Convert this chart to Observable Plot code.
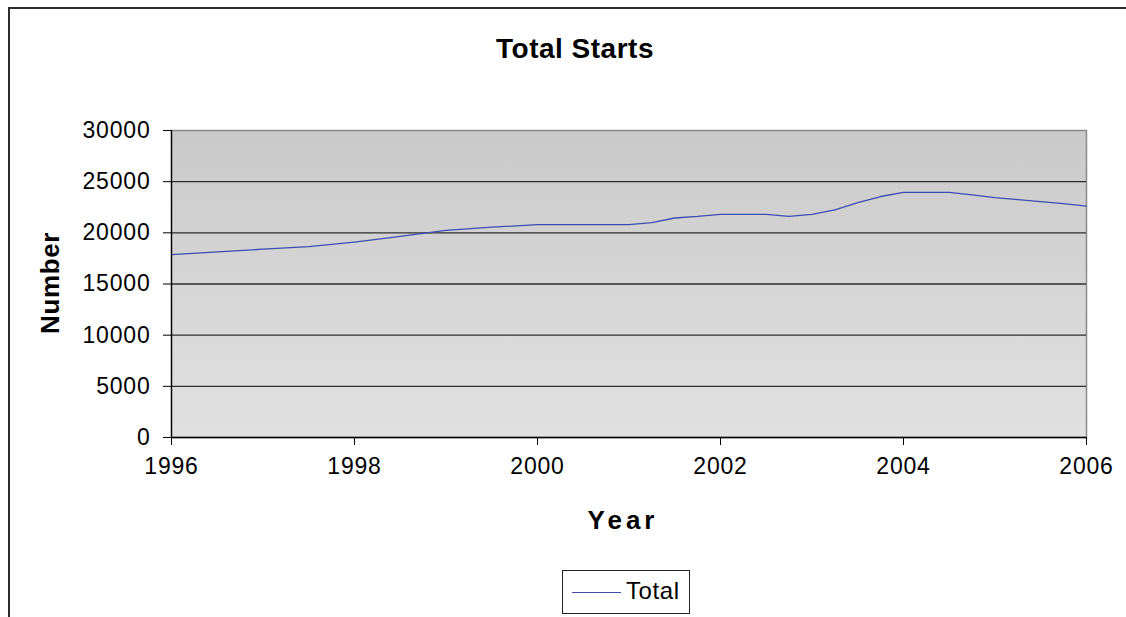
<!DOCTYPE html>
<html><head><meta charset="utf-8">
<script src="https://cdn.jsdelivr.net/npm/d3@7"></script>
<script src="https://cdn.jsdelivr.net/npm/@observablehq/plot@0.6"></script>
<style>
html,body{margin:0;padding:0;background:#fff;overflow:hidden;}
body{font-family:"Liberation Sans",Arial,sans-serif;color:#000;}
#wrap{position:relative;width:1126px;height:617px;overflow:hidden;}
#frame{position:absolute;left:8px;top:7px;width:1300px;height:800px;border:2px solid #2e2e2e;box-sizing:border-box;}
#title{position:absolute;left:575px;top:33px;transform:translateX(-50%);font-weight:bold;font-size:28px;letter-spacing:0.5px;white-space:nowrap;}
#ylab{position:absolute;left:50px;top:283px;transform:translate(-50%,-50%) rotate(-90deg);font-weight:bold;font-size:26px;white-space:nowrap;letter-spacing:0.6px;}
#xlab{position:absolute;left:623px;top:505px;transform:translateX(-50%);font-weight:bold;font-size:26px;letter-spacing:4px;white-space:nowrap;}
#chart{position:absolute;left:0;top:100px;}
#legend{position:absolute;left:562px;top:570px;width:128px;height:44px;border:1.5px solid #222;box-sizing:border-box;background:#fff;}
#legend .sw{position:absolute;left:9px;top:21px;width:49px;height:0;border-top:1.3px solid #3b4db0;}
#legend .tx{position:absolute;left:63px;top:6px;font-size:24px;letter-spacing:0.6px;}
</style>
</head><body>
<div id="wrap">
  <div id="frame"></div>
  <div id="title">Total Starts</div>
  <div id="ylab">Number</div>
  <div id="xlab">Year</div>
  <div id="chart"></div>
  <div id="legend"><div class="sw"></div><div class="tx">Total</div></div>
</div>
<script>
const years = [1996, 1997, 1997.5, 1998, 1998.5, 1999, 1999.5, 2000, 2000.25, 2000.5, 2000.75, 2001, 2001.25, 2001.5, 2001.75, 2002, 2002.25, 2002.5, 2002.75, 2003, 2003.25, 2003.5, 2003.75, 2004, 2004.25, 2004.5, 2004.75, 2005, 2005.25, 2005.5, 2005.75, 2006];
const totals = [17870, 18400, 18650, 19100, 19650, 20250, 20550, 20800, 20800, 20800, 20800, 20800, 21000, 21450, 21600, 21800, 21800, 21800, 21600, 21800, 22250, 22950, 23550, 23950, 23950, 23950, 23700, 23450, 23250, 23050, 22850, 22600];
const seriesName = "Total";
const xTicks = [1996, 1998, 2000, 2002, 2004, 2006];
const yTicks = [0, 5000, 10000, 15000, 20000, 25000, 30000];

const data = years.map((y, i) => ({year: y, total: totals[i], series: seriesName}));

const chart = Plot.plot({
  width: 1126,
  height: 440,
  marginTop: 30,
  marginBottom: 103,
  marginLeft: 171,
  marginRight: 40,
  style: {fontSize: "23px", fontFamily: "'Liberation Sans', Arial, sans-serif", color: "#000", background: "transparent", overflow: "visible", letterSpacing: "0.8px"},
  x: {domain: [1996, 2006]},
  y: {domain: [0, 30000]},
  marks: [
    Plot.frame({fill: "url(#bgGrad)", stroke: "#8a8a8a", strokeWidth: 1.5}),
    Plot.gridY(yTicks.filter(d => d > 0 && d < 30000), {stroke: "#2e2e2e", strokeOpacity: 1, strokeWidth: 1.4}),
    Plot.line(data, {x: "year", y: "total", stroke: "#3b4db0", strokeWidth: 1.3}),
    Plot.axisY({ticks: yTicks, tickFormat: d => String(d), tickSize: 8, tickPadding: 13, label: null, stroke: "#000"}),
    Plot.axisX({ticks: xTicks, tickFormat: d => String(d), tickSize: 8, tickPadding: 12, label: null, stroke: "#000"}),
    Plot.ruleX([1996], {stroke: "#000", strokeWidth: 1.3}),
    Plot.ruleY([0], {stroke: "#000", strokeWidth: 1.3})
  ]
});

const svgNS = "http://www.w3.org/2000/svg";
const defs = document.createElementNS(svgNS, "defs");
defs.innerHTML = '<linearGradient id="bgGrad" x1="0" y1="0" x2="0" y2="1"><stop offset="0" stop-color="#cacaca"/><stop offset="1" stop-color="#e1e1e1"/></linearGradient>';
chart.insertBefore(defs, chart.firstChild);
document.getElementById("chart").appendChild(chart);
</script>
</body></html>
